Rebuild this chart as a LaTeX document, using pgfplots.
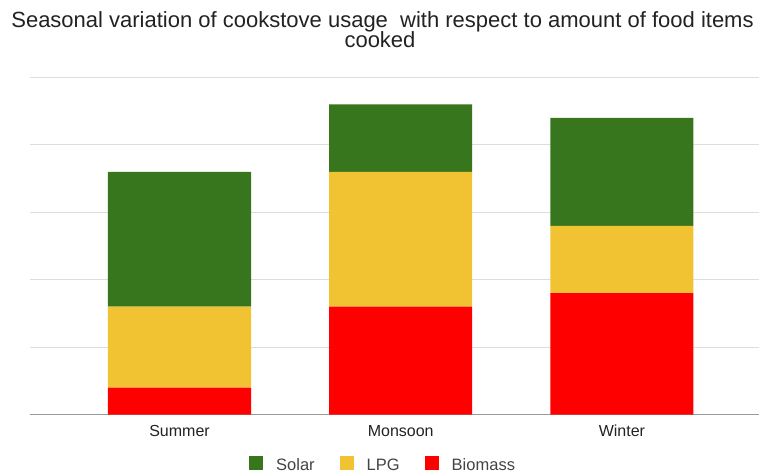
\documentclass[border=0pt]{standalone}
\usepackage{pgfplots}
\pgfplotsset{compat=1.18}
\usepackage{fontspec}
\setmainfont{Liberation Sans}

\definecolor{solar}{HTML}{38761D}
\definecolor{lpg}{HTML}{F1C232}
\definecolor{biomass}{HTML}{FF0000}
\definecolor{gridgray}{HTML}{DDDDDD}
\definecolor{basegray}{HTML}{9A9A9A}
\definecolor{labelgray}{HTML}{222222}
\definecolor{legendgray}{HTML}{444444}

\begin{document}
\begin{tikzpicture}
\begin{axis}[
  at={(30bp,60.5bp)}, anchor=south west,
  scale only axis, width=729bp, height=337bp,
  ybar stacked, bar width=0.647,
  xmin=-0.676, xmax=2.62, ymin=0, ymax=25,
  xtick={0,1,2}, xticklabels={Summer,Monsoon,Winter},
  ytick={5,10,15,20,25}, yticklabels={},
  ymajorgrids, grid style={gridgray, line width=1bp},
  extra y ticks={0}, extra y tick labels={},
  extra y tick style={grid style={basegray, line width=1.5bp}},
  axis line style={draw=none},
  major tick length=0pt,
  xticklabel style={font=\fontsize{16bp}{19bp}\selectfont, text=labelgray,
    inner sep=0pt, anchor=north, yshift=-10.5bp},
  reverse legend,
  legend columns=3,
  legend style={at={(axis description cs:0.483,-0.147)}, anchor=center,
    draw=none, fill=none, inner sep=0pt,
    font=\fontsize{16.5bp}{19bp}\selectfont, text=legendgray,
    nodes={inner sep=0pt},
    /tikz/every odd column/.append style={column sep=13bp},
    /tikz/every even column/.append style={column sep=25bp}},
  legend image code/.code={\fill[#1] (0bp,-4.5bp) rectangle (14bp,9.5bp);},
]
\addplot[fill=biomass, draw=none] coordinates {(0,2) (1,8) (2,9)};
\addplot[fill=lpg, draw=none] coordinates {(0,6) (1,10) (2,5)};
\addplot[fill=solar, draw=none] coordinates {(0,10) (1,5) (2,8)};
\legend{Biomass, LPG, Solar}
\end{axis}
\node[anchor=base, text=labelgray, inner sep=0pt, font=\fontsize{22bp}{26bp}\selectfont]
  at (382.5bp,447bp) {Seasonal variation of cookstove usage~ with respect to amount of food items};
\node[anchor=base, text=labelgray, inner sep=0pt, font=\fontsize{22bp}{26bp}\selectfont]
  at (380bp,427bp) {cooked};
\pgfresetboundingbox
\path (0,0) rectangle (759bp,475bp);
\end{tikzpicture}
\end{document}
